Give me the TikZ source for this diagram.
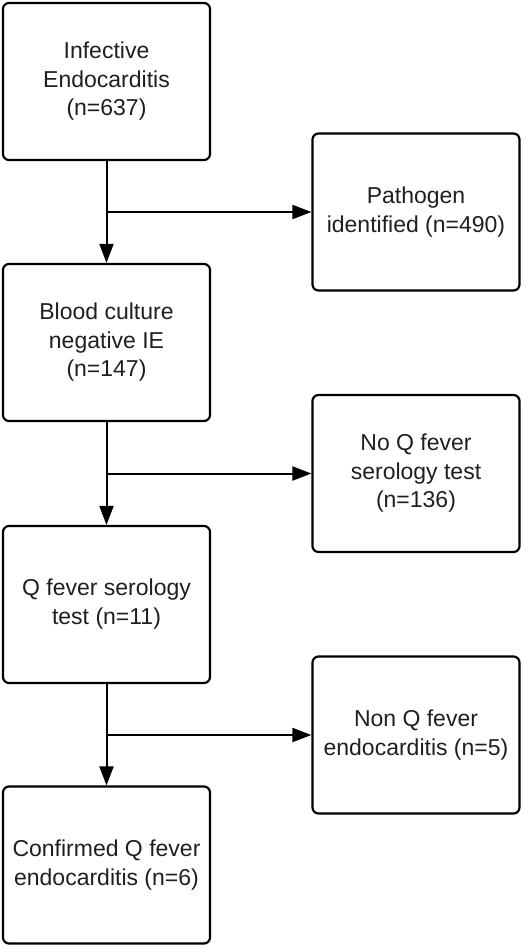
\documentclass[tikz,border=0pt]{standalone}
\usepackage{fontspec}
\setmainfont{Liberation Sans}
\usetikzlibrary{arrows.meta}
\newcommand\boxtext[1]{\raisebox{3pt}{\begin{tabular}{@{}c@{}}#1\end{tabular}}}
\begin{document}
\begin{tikzpicture}[x=1pt,y=-1pt,
  flowbox/.style={draw=black, line width=2.2pt, rounded corners=6pt, minimum width=207pt, minimum height=157pt, font=\fontsize{23}{28.7}\selectfont, inner sep=0pt, text=black!88},
  conn/.style={line width=2pt, -{Triangle[length=19pt,width=14pt]}}]
\useasboundingbox (0,0) rectangle (528,946);
\node[flowbox] (ie) at (106.5,81.5) {\boxtext{Infective\\Endocarditis\\(n=637)}};
\node[flowbox] (path) at (416,212) {\boxtext{Pathogen\\identified (n=490)}};
\node[flowbox] (bcn) at (106.5,342.5) {\boxtext{Blood culture\\negative IE\\(n=147)}};
\node[flowbox] (noq) at (416,473.5) {\boxtext{No Q fever\\serology test\\(n=136)}};
\node[flowbox] (qs) at (106.5,604.5) {\boxtext{Q fever serology\\test (n=11)}};
\node[flowbox] (nonq) at (416,735) {\boxtext{Non Q fever\\endocarditis (n=5)}};
\node[flowbox] (conf) at (106.5,865) {\boxtext{Confirmed Q fever\\endocarditis (n=6)}};
\coordinate (j1) at (ie.south |- path.west);
\coordinate (j2) at (bcn.south |- noq.west);
\coordinate (j3) at (qs.south |- nonq.west);
\draw[conn] (ie.south) -- (bcn.north);
\draw[conn] (j1) -- (path.west);
\draw[conn] (bcn.south) -- (qs.north);
\draw[conn] (j2) -- (noq.west);
\draw[conn] (qs.south) -- (conf.north);
\draw[conn] (j3) -- (nonq.west);
\end{tikzpicture}
\end{document}
